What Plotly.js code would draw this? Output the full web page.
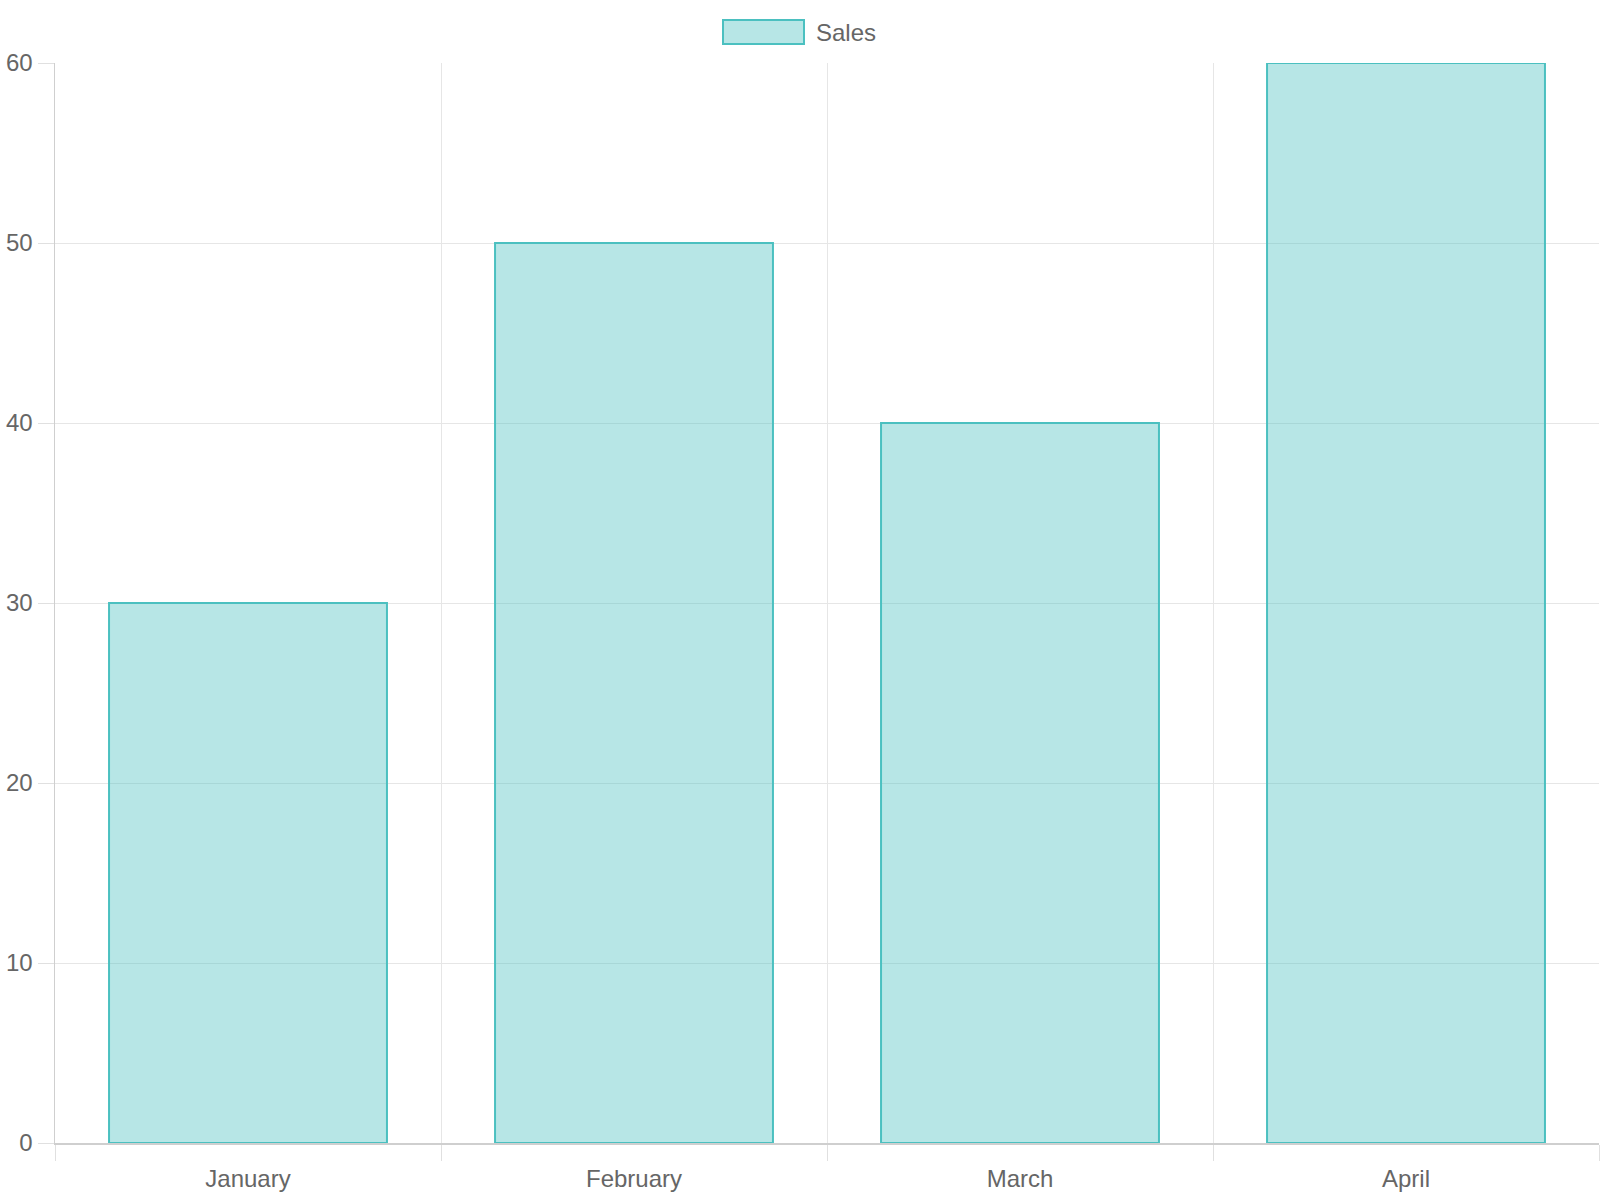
<!DOCTYPE html>
<html>
<head>
<meta charset="utf-8">
<script src="https://cdn.plot.ly/plotly-3.0.1.min.js"></script>
<style>html,body{margin:0;padding:0;background:#fff;}#chart{width:1600px;height:1200px;}</style>
</head>
<body>
<div id="chart"></div>
<script>
const categories = ["January", "February", "March", "April"];
const sales = [30, 50, 40, 60];
const seriesName = "Sales";
const yTicks = [0, 10, 20, 30, 40, 50, 60];

const fill = "rgba(75,192,192,0.4)";
const border = "rgb(75,192,192)";
const font = {family: "Liberation Sans, Arial, sans-serif", size: 24, color: "#666"};

const data = [{
  type: "bar",
  x: categories,
  y: sales,
  name: seriesName,
  marker: {color: fill, line: {color: border, width: 2}},
  hoverinfo: "x+y"
}];

const layout = {
  width: 1600, height: 1200,
  margin: {l: 55, r: 1, t: 63, b: 57},
  paper_bgcolor: "#fff", plot_bgcolor: "#fff",
  font: font,
  showlegend: false,
  bargap: 0.28,
  xaxis: {
    type: "category",
    tickson: "boundaries",
    ticks: "outside", ticklen: 16, tickcolor: "#e0e0e0", tickwidth: 1,
    ticklabelstandoff: 14,
    showgrid: true, gridcolor: "#e6e6e6", gridwidth: 1,
    showline: true, linecolor: "#cfcfcf", linewidth: 1.5,
    tickfont: font,
    mirror: false
  },
  yaxis: {
    range: [0, 60],
    tickvals: yTicks,
    ticks: "outside", ticklen: 16, tickcolor: "#e0e0e0", tickwidth: 1,
    showgrid: true, gridcolor: "#e6e6e6", gridwidth: 1,
    zeroline: false,
    showline: true, linecolor: "#cfcfcf", linewidth: 1.5,
    tickfont: font
  },
  shapes: [{
    type: "rect", xref: "paper", yref: "paper",
    x0: (723 - 55) / 1544, x1: (804 - 55) / 1544,
    y0: 1 + (63 - 44) / 1080, y1: 1 + (63 - 20) / 1080,
    fillcolor: fill, line: {color: border, width: 2}
  }],
  annotations: [{
    xref: "paper", yref: "paper",
    x: (814 - 55) / 1544, y: 1 + (63 - 32) / 1080,
    xanchor: "left", yanchor: "middle",
    text: seriesName, showarrow: false, font: font
  }]
};

Plotly.newPlot("chart", data, layout, {displayModeBar: false, staticPlot: true});
</script>
</body>
</html>
